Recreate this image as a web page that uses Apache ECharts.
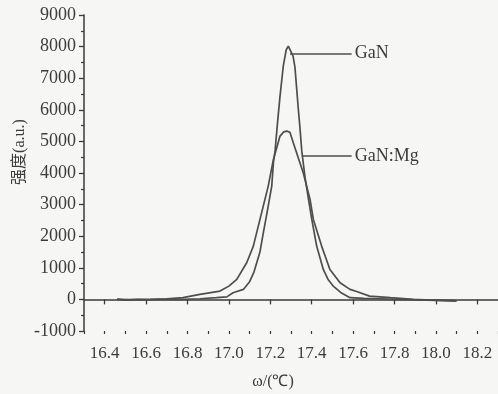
<!DOCTYPE html>
<html>
<head>
<meta charset="utf-8">
<script src="https://cdn.jsdelivr.net/npm/echarts@6/dist/echarts.min.js"></script>
<style>
html,body{margin:0;padding:0;background:#f6f6f4;}
#chart{width:498px;height:394px;}
</style>
</head>
<body>
<div id="chart"></div>
<script>
// ---- data ----
const ganOmega = [16.46, 16.50, 16.56, 16.62, 16.70, 16.78, 16.86, 16.94, 16.99, 17.02, 17.07, 17.10, 17.12, 17.15, 17.166, 17.183, 17.207, 17.215, 17.223, 17.235, 17.247, 17.263, 17.277, 17.287, 17.295, 17.31, 17.319, 17.327, 17.335, 17.343, 17.352, 17.368, 17.385, 17.40, 17.424, 17.456, 17.48, 17.504, 17.54, 17.585, 17.65, 17.73, 17.80, 17.875, 17.95, 18.02, 18.09];
const ganIntensity = [10, -20, 0, -10, 0, 0, 20, 54, 80, 212, 316, 560, 845, 1500, 2100, 2700, 3585, 4325, 4700, 5600, 6434, 7400, 7900, 8016, 7975, 7700, 7350, 6700, 6050, 5450, 4700, 3850, 3150, 2550, 1687, 949, 620, 421, 220, 54, 30, 20, 0, -10, -20, -30, -40];

const mgOmega = [16.46, 16.52, 16.619, 16.70, 16.778, 16.86, 16.957, 17.0, 17.038, 17.086, 17.118, 17.142, 17.166, 17.19, 17.215, 17.247, 17.265, 17.279, 17.295, 17.311, 17.327, 17.359, 17.392, 17.408, 17.448, 17.488, 17.537, 17.585, 17.617, 17.68, 17.78, 17.89, 17.98, 18.1];
const mgIntensity = [0, -10, 0, 20, 54, 158, 263, 420, 633, 1161, 1687, 2320, 2953, 3585, 4430, 5168, 5300, 5327, 5285, 4958, 4642, 4009, 3165, 2532, 1687, 949, 528, 316, 250, 105, 54, 0, -20, -54];

const xTickLabels = [16.4, 16.6, 16.8, 17.0, 17.2, 17.4, 17.6, 17.8, 18.0, 18.2];
const seriesNames = ['GaN', 'GaN:Mg'];
const ganLeader = [[17.295, 7780], [17.593, 7780]];
const mgLeader = [[17.352, 4540], [17.593, 4540]];

const zip = (xs, ys) => xs.map((x, i) => [x, ys[i]]);
const FONT = "'Liberation Serif', 'Times New Roman', serif";
const TXT = '#3c3c3c';
const LINE = '#4e4e4e';

const chart = echarts.init(document.getElementById('chart'));
chart.setOption({
  backgroundColor: '#f6f6f4',
  animation: false,
  grid: {left: 84, right: 0, top: 15, bottom: 63},
  xAxis: [{
    type: 'value', min: 16.3, max: 18.3,
    axisLine: {show: true, lineStyle: {color: '#3a3a3a', width: 1.5}},
    axisTick: {show: true, length: 5, lineStyle: {color: '#3a3a3a', width: 1.3}, customValues: xTickLabels},
    axisLabel: {customValues: xTickLabels, formatter: v => v.toFixed(1), fontFamily: FONT, fontSize: 17, color: TXT, margin: 14},
    splitLine: {show: false}
  }, {
    type: 'value', min: 16.3, max: 18.3, interval: 0.1, position: 'bottom',
    axisLine: {show: false},
    axisTick: {show: true, length: 3, lineStyle: {color: '#3a3a3a', width: 1.2}},
    axisLabel: {show: false},
    splitLine: {show: false}
  }],
  yAxis: {
    type: 'value', min: -1000, max: 9000, interval: 1000,
    axisLine: {show: true, lineStyle: {color: '#3a3a3a', width: 1.5}},
    axisTick: {show: true, length: 5, lineStyle: {color: '#3a3a3a', width: 1.3}},
    minorTick: {show: true, splitNumber: 2, length: 3, lineStyle: {color: '#3a3a3a', width: 1.2}},
    axisLabel: {formatter: v => String(v), fontFamily: FONT, fontSize: 18, color: TXT, margin: 8},
    splitLine: {show: false}
  },
  series: [{
    name: seriesNames[0], type: 'line', showSymbol: false,
    lineStyle: {color: LINE, width: 1.7},
    data: zip(ganOmega, ganIntensity),
    markLine: {
      silent: true, symbol: 'none',
      lineStyle: {color: LINE, width: 1.6, type: 'solid'},
      label: {position: 'end', formatter: seriesNames[0], fontFamily: FONT, fontSize: 18, color: TXT, distance: 3},
      data: [[{coord: ganLeader[0]}, {coord: ganLeader[1]}]]
    }
  }, {
    name: seriesNames[1], type: 'line', showSymbol: false,
    lineStyle: {color: LINE, width: 1.7},
    data: zip(mgOmega, mgIntensity),
    markLine: {
      silent: true, symbol: 'none',
      lineStyle: {color: LINE, width: 1.6, type: 'solid'},
      label: {position: 'end', formatter: seriesNames[1], fontFamily: FONT, fontSize: 18, color: TXT, distance: 3},
      data: [[{coord: mgLeader[0]}, {coord: mgLeader[1]}]]
    }
  }],
  graphic: [{
    type: 'text', x: 273, y: 382,
    style: {text: 'ω/(℃)', fontFamily: FONT, fontSize: 16, fill: TXT, align: 'center', verticalAlign: 'middle'}
  }, {
    type: 'text', x: 20, y: 152, rotation: Math.PI / 2,
    style: {text: '强度(a.u.)', fontFamily: "'Liberation Serif', 'Noto Sans CJK SC', serif", fontSize: 16, fill: TXT, align: 'center', verticalAlign: 'middle'}
  }]
});
</script>
</body>
</html>
